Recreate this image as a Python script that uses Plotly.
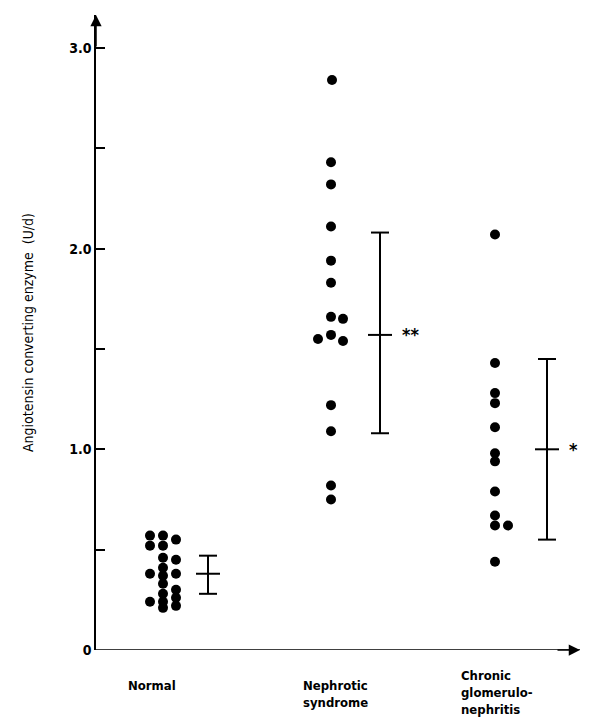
import plotly.graph_objects as go

# dot positions (x in px units from y axis, y = U/d)
normal_x = [54]*4 + [67]*9 + [80]*6
normal_y = [0.57, 0.52, 0.38, 0.24,
            0.57, 0.52, 0.46, 0.41, 0.37, 0.33, 0.28, 0.24, 0.21,
            0.55, 0.45, 0.38, 0.30, 0.26, 0.22]
neph_x = [236, 235, 235, 235, 235, 235, 235, 247, 235, 222, 247, 235, 235, 235, 235]
neph_y = [2.84, 2.43, 2.32, 2.11, 1.94, 1.83, 1.66, 1.65, 1.57, 1.55, 1.54, 1.22, 1.09, 0.82, 0.75]
chron_x = [399]*11 + [412]
chron_y = [2.07, 1.43, 1.28, 1.23, 1.11, 0.98, 0.94, 0.79, 0.67, 0.62, 0.44, 0.62]

# error bars: x, low, mean, high
bars = [(112, 0.28, 0.38, 0.47), (284, 1.08, 1.57, 2.08), (451, 0.55, 1.00, 1.45)]
stars = [(284, 1.57, "**"), (451, 1.00, "*")]
groups = [(56, "Normal"), (239, "Nephrotic<br>syndrome"), (401, "Chronic<br>glomerulo-<br>nephritis")]
label_shift = [-26, -26, -16]

fig = go.Figure()
dot = dict(color="black", size=10)
for xs, ys in [(normal_x, normal_y), (neph_x, neph_y), (chron_x, chron_y)]:
    fig.add_trace(go.Scatter(x=xs, y=ys, mode="markers", marker=dot, showlegend=False))

for bx, lo, m, hi in bars:
    fig.add_trace(go.Scatter(x=[bx, bx], y=[lo, hi], mode="lines",
                             line=dict(color="black", width=2), showlegend=False))
    for yy in (lo, m, hi):
        w = 12 if yy == m else 9
        fig.add_trace(go.Scatter(x=[bx-w, bx+w], y=[yy, yy], mode="lines",
                                 line=dict(color="black", width=2), showlegend=False))

ann = []
for bx, yy, s in stars:
    ann.append(dict(x=bx+20, y=yy, text="<b>"+s+"</b>", showarrow=False, xanchor="left",
                    font=dict(size=18)))
for (gx, t), sh in zip(groups, label_shift):
    ann.append(dict(x=gx, y=0, yshift=sh, text="<b>"+t.replace("<br>", "</b><br><b>")+"</b>",
                    showarrow=False, xanchor="center",
                    yanchor="top", align="left", font=dict(size=13)))
# axis arrows
ann.append(dict(x=0, y=3.164, ax=0, ay=3.0, axref="x", ayref="y", showarrow=True,
                arrowhead=2, arrowsize=1.5, arrowwidth=1.5, arrowcolor="black", text=""))
ann.append(dict(x=484, y=0, ax=460, ay=0, axref="x", ayref="y", showarrow=True,
                arrowhead=2, arrowsize=1.5, arrowwidth=1.5, arrowcolor="black", text=""))

fig.update_layout(
    width=583, height=715, plot_bgcolor="white", paper_bgcolor="white",
    margin=dict(l=88, r=11, t=7, b=73),
    font=dict(family="Liberation Sans Narrow, DejaVu Sans Condensed, sans-serif",
              color="black", size=14),
    annotations=ann,
    xaxis=dict(range=[0, 484], showgrid=False, zeroline=False, showticklabels=False,
               showline=False),
    yaxis=dict(range=[0, 3.164], showgrid=False, zeroline=False,
               tickvals=[0, 0.5, 1.0, 1.5, 2.0, 2.5, 3.0],
               ticktext=["<b>0</b>", "", "<b>1.0</b>", "", "<b>2.0</b>", "", "<b>3.0</b>"],
               ticks="inside", ticklen=9, tickwidth=1.5, tickcolor="black",
               showline=True, linecolor="black", linewidth=1.5,
               title=dict(text="Angiotensin converting enzyme  (U/d)", standoff=32,
                          font=dict(size=14))),
)
fig.add_shape(type="line", x0=0, x1=484, y0=0, y1=0, xref="x", yref="y",
              line=dict(color="black", width=1.5))
fig.write_html("out.html")
